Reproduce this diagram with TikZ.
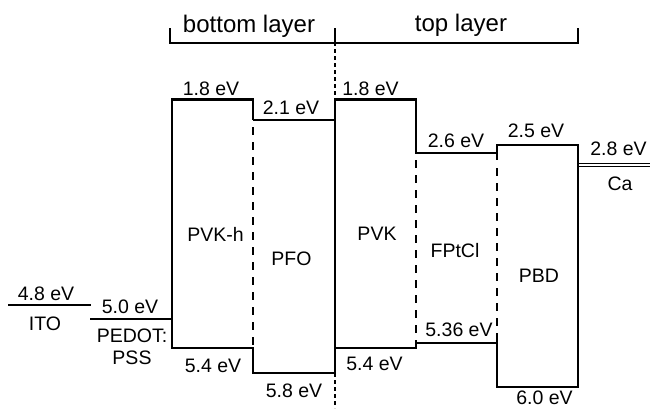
\documentclass[tikz,border=0pt]{standalone}
\usepackage{fontspec}
\setmainfont{Liberation Sans}
\begin{document}
\begin{tikzpicture}[x=1pt,y=-1pt,
  lvl/.style={line width=2.1pt, line join=miter},
  thickdash/.style={line width=2.1pt, dash pattern=on 8pt off 7pt},
  thindash/.style={line width=1.1pt, dash pattern=on 4pt off 3pt},
  lab/.style={anchor=base, inner sep=0pt, font=\fontsize{19.5}{22}\selectfont},
  head/.style={anchor=base, inner sep=0pt, font=\fontsize{24}{28}\selectfont}]
\useasboundingbox (0,0) rectangle (650,408);
% corners
\coordinate (hTL) at (172,99.5);  \coordinate (hBL) at (172,348);
\coordinate (hTR) at (253,99.5);  \coordinate (hBR) at (253,348);
\coordinate (fTL) at (253,120);   \coordinate (fBL) at (253,373);
\coordinate (fTR) at (335,120);   \coordinate (fBR) at (335,373);
\coordinate (vTL) at (335,99.5);  \coordinate (vBL) at (335,348);
\coordinate (vTR) at (416,99.5);  \coordinate (vBR) at (416,348);
\coordinate (pTL) at (416,153);   \coordinate (pBL) at (416,343);
\coordinate (pTR) at (497,153);   \coordinate (pBR) at (497,343);
\coordinate (bTL) at (497,145);   \coordinate (bBL) at (497,387);
\coordinate (bTR) at (578,145);   \coordinate (bBR) at (578,387);
% bracket
\coordinate (brL) at (170,43); \coordinate (brM) at (335,43); \coordinate (brR) at (578,43);
\draw[line width=2.2pt] ([yshift=15pt]brL) -- (brL) -- (brR) -- ([yshift=15pt]brR);
\draw[line width=2.2pt] (brM) -- ([yshift=15pt]brM) coordinate (brMe);
\draw[thindash] (brMe) -- (vTL);
\draw[thindash] (fBR) -- (335,408) coordinate (midEnd);
% electrodes
\coordinate (itoL) at (8,305); \coordinate (itoR) at (91,305);
\coordinate (pedL) at (90,319); \coordinate (pedR) at (172,319);
\draw[line width=2.4pt] (itoL) -- (itoR);
\draw[line width=2.4pt] (pedL) -- (pedR);
\draw[line width=1.3pt] (578,163.2) -- (650,163.2);
\draw[line width=1.3pt] (578,166.4) -- (650,166.4);
% boxes (solid)
\draw[lvl] (fTL) -- (hTR) -- (hTL) -- (hBL) -- (hBR) -- (fBL) -- (fBR) -- (vTL) -- (vTR) -- (pTL) -- (pTR) -- (bTL) -- (bTR) -- (bBR) -- (bBL) -- (pBR) -- (pBL) -- (vBR) -- (vBL);
\draw[lvl] (fTL) -- (fTR);
\draw[lvl] (497,153) -- (497,160);
\draw[lvl] (497,336) -- (pBR);
% dashed interfaces
\draw[thickdash] (253,127) -- (253,348);
\draw[thickdash] (416,160) -- (416,343);
\draw[thickdash] (497,168) -- (497,336);
% headers
\node[head] (hb) at (249,32) {bottom layer};
\node[head] (ht) at (461,31) {top layer};
% labels
\node[lab] (l1) at (211,95) {1.8 eV};
\node[lab] (l2) at (291,114) {2.1 eV};
\node[lab] (l3) at (370.5,95.5) {1.8 eV};
\node[lab] (l4) at (456,147) {2.6 eV};
\node[lab] (l5) at (536,137.5) {2.5 eV};
\node[lab] (l6) at (618.5,155) {2.8 eV};
\node[lab] (ca) at (620,190) {Ca};
\node[lab] (l7) at (46,300) {4.8 eV};
\node[lab] (ito) at (45,330) {ITO};
\node[lab] (l8) at (130,313) {5.0 eV};
\node[lab] (ped) at (132,342) {PEDOT:};
\node[lab] (pss) at (132,364) {PSS};
\node[lab] (l9) at (213,372) {5.4 eV};
\node[lab] (l10) at (294,397) {5.8 eV};
\node[lab] (l11) at (374.5,370) {5.4 eV};
\node[lab] (l12) at (459,336) {5.36 eV};
\node[lab] (l13) at (544.5,404.5) {6.0 eV};
\node[lab] (pvkh) at (215.5,241) {PVK-h};
\node[lab] (pfo) at (291.5,265) {PFO};
\node[lab] (pvk) at (377,240) {PVK};
\node[lab] (fpt) at (455,257) {FPtCl};
\node[lab] (pbd) at (539,282) {PBD};
\end{tikzpicture}
\end{document}
